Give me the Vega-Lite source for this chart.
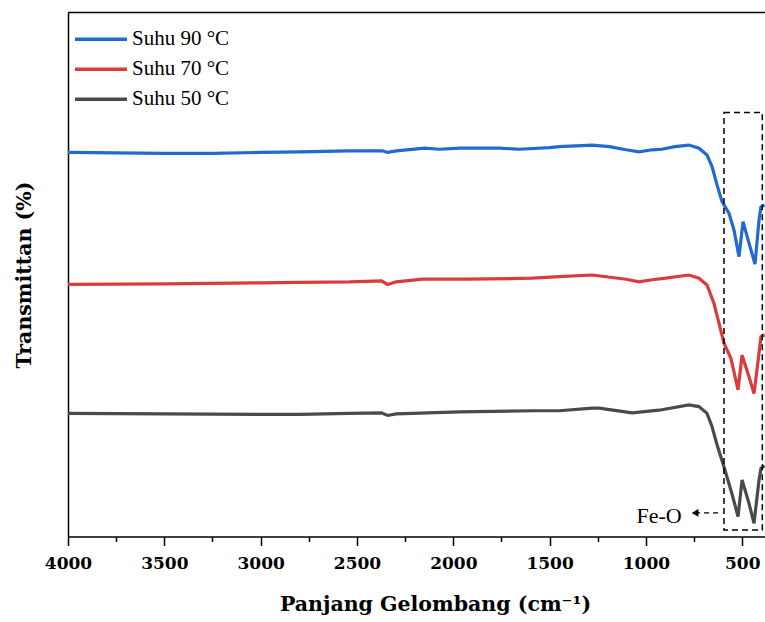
{
  "$schema": "https://vega.github.io/schema/vega-lite/v6.json",
  "width": 697,
  "height": 524,
  "autosize": {"type": "none"},
  "padding": {"left": 68, "top": 12.5, "right": 0, "bottom": 85.5},
  "background": "white",
  "config": {
    "view": {"stroke": null},
    "axis": {"grid": false, "domainColor": "black", "tickColor": "black", "labelColor": "black", "titleColor": "black"}
  },
  "datasets": {
    "spectra": [
      {"series": "Suhu 90 °C", "wn": 4000, "T": 73.3},
      {"series": "Suhu 90 °C", "wn": 3750, "T": 73.2},
      {"series": "Suhu 90 °C", "wn": 3500, "T": 73.1},
      {"series": "Suhu 90 °C", "wn": 3250, "T": 73.1},
      {"series": "Suhu 90 °C", "wn": 3000, "T": 73.3},
      {"series": "Suhu 90 °C", "wn": 2797, "T": 73.4},
      {"series": "Suhu 90 °C", "wn": 2539, "T": 73.6},
      {"series": "Suhu 90 °C", "wn": 2368, "T": 73.6},
      {"series": "Suhu 90 °C", "wn": 2341, "T": 73.3},
      {"series": "Suhu 90 °C", "wn": 2296, "T": 73.6},
      {"series": "Suhu 90 °C", "wn": 2149, "T": 74.1},
      {"series": "Suhu 90 °C", "wn": 2071, "T": 73.9},
      {"series": "Suhu 90 °C", "wn": 1967, "T": 74.1},
      {"series": "Suhu 90 °C", "wn": 1760, "T": 74.1},
      {"series": "Suhu 90 °C", "wn": 1657, "T": 73.9},
      {"series": "Suhu 90 °C", "wn": 1501, "T": 74.2},
      {"series": "Suhu 90 °C", "wn": 1450, "T": 74.4},
      {"series": "Suhu 90 °C", "wn": 1279, "T": 74.7},
      {"series": "Suhu 90 °C", "wn": 1190, "T": 74.4},
      {"series": "Suhu 90 °C", "wn": 1103, "T": 73.8},
      {"series": "Suhu 90 °C", "wn": 1036, "T": 73.4},
      {"series": "Suhu 90 °C", "wn": 968, "T": 73.8},
      {"series": "Suhu 90 °C", "wn": 917, "T": 73.9},
      {"series": "Suhu 90 °C", "wn": 850, "T": 74.4},
      {"series": "Suhu 90 °C", "wn": 777, "T": 74.7},
      {"series": "Suhu 90 °C", "wn": 725, "T": 74.1},
      {"series": "Suhu 90 °C", "wn": 683, "T": 72.8},
      {"series": "Suhu 90 °C", "wn": 657, "T": 70.6},
      {"series": "Suhu 90 °C", "wn": 631, "T": 67.1},
      {"series": "Suhu 90 °C", "wn": 605, "T": 63.9},
      {"series": "Suhu 90 °C", "wn": 569, "T": 61.7},
      {"series": "Suhu 90 °C", "wn": 543, "T": 58.5},
      {"series": "Suhu 90 °C", "wn": 517, "T": 53.4},
      {"series": "Suhu 90 °C", "wn": 496, "T": 60.1},
      {"series": "Suhu 90 °C", "wn": 465, "T": 56.0},
      {"series": "Suhu 90 °C", "wn": 434, "T": 52.0},
      {"series": "Suhu 90 °C", "wn": 413, "T": 60.4},
      {"series": "Suhu 90 °C", "wn": 403, "T": 62.9},
      {"series": "Suhu 90 °C", "wn": 384, "T": 63.3},

      {"series": "Suhu 70 °C", "wn": 4000, "T": 48.1},
      {"series": "Suhu 70 °C", "wn": 3500, "T": 48.2},
      {"series": "Suhu 70 °C", "wn": 3000, "T": 48.4},
      {"series": "Suhu 70 °C", "wn": 2797, "T": 48.5},
      {"series": "Suhu 70 °C", "wn": 2539, "T": 48.6},
      {"series": "Suhu 70 °C", "wn": 2373, "T": 48.8},
      {"series": "Suhu 70 °C", "wn": 2341, "T": 48.1},
      {"series": "Suhu 70 °C", "wn": 2296, "T": 48.6},
      {"series": "Suhu 70 °C", "wn": 2159, "T": 49.1},
      {"series": "Suhu 70 °C", "wn": 1931, "T": 49.1},
      {"series": "Suhu 70 °C", "wn": 1589, "T": 49.3},
      {"series": "Suhu 70 °C", "wn": 1450, "T": 49.6},
      {"series": "Suhu 70 °C", "wn": 1279, "T": 49.9},
      {"series": "Suhu 70 °C", "wn": 1103, "T": 49.1},
      {"series": "Suhu 70 °C", "wn": 1036, "T": 48.6},
      {"series": "Suhu 70 °C", "wn": 968, "T": 49.0},
      {"series": "Suhu 70 °C", "wn": 896, "T": 49.3},
      {"series": "Suhu 70 °C", "wn": 777, "T": 49.9},
      {"series": "Suhu 70 °C", "wn": 725, "T": 49.3},
      {"series": "Suhu 70 °C", "wn": 683, "T": 48.0},
      {"series": "Suhu 70 °C", "wn": 647, "T": 44.5},
      {"series": "Suhu 70 °C", "wn": 621, "T": 40.7},
      {"series": "Suhu 70 °C", "wn": 595, "T": 36.9},
      {"series": "Suhu 70 °C", "wn": 559, "T": 34.0},
      {"series": "Suhu 70 °C", "wn": 522, "T": 28.0},
      {"series": "Suhu 70 °C", "wn": 501, "T": 34.6},
      {"series": "Suhu 70 °C", "wn": 465, "T": 30.5},
      {"series": "Suhu 70 °C", "wn": 439, "T": 27.3},
      {"series": "Suhu 70 °C", "wn": 413, "T": 35.0},
      {"series": "Suhu 70 °C", "wn": 403, "T": 38.1},
      {"series": "Suhu 70 °C", "wn": 384, "T": 38.5},

      {"series": "Suhu 50 °C", "wn": 4000, "T": 23.5},
      {"series": "Suhu 50 °C", "wn": 3500, "T": 23.4},
      {"series": "Suhu 50 °C", "wn": 3000, "T": 23.3},
      {"series": "Suhu 50 °C", "wn": 2797, "T": 23.3},
      {"series": "Suhu 50 °C", "wn": 2539, "T": 23.5},
      {"series": "Suhu 50 °C", "wn": 2373, "T": 23.6},
      {"series": "Suhu 50 °C", "wn": 2341, "T": 23.1},
      {"series": "Suhu 50 °C", "wn": 2296, "T": 23.4},
      {"series": "Suhu 50 °C", "wn": 1967, "T": 23.8},
      {"series": "Suhu 50 °C", "wn": 1589, "T": 24.0},
      {"series": "Suhu 50 °C", "wn": 1450, "T": 24.0},
      {"series": "Suhu 50 °C", "wn": 1279, "T": 24.5},
      {"series": "Suhu 50 °C", "wn": 1243, "T": 24.5},
      {"series": "Suhu 50 °C", "wn": 1072, "T": 23.6},
      {"series": "Suhu 50 °C", "wn": 932, "T": 24.1},
      {"series": "Suhu 50 °C", "wn": 777, "T": 25.1},
      {"series": "Suhu 50 °C", "wn": 725, "T": 24.8},
      {"series": "Suhu 50 °C", "wn": 683, "T": 23.5},
      {"series": "Suhu 50 °C", "wn": 657, "T": 21.0},
      {"series": "Suhu 50 °C", "wn": 631, "T": 17.5},
      {"series": "Suhu 50 °C", "wn": 595, "T": 13.3},
      {"series": "Suhu 50 °C", "wn": 554, "T": 8.2},
      {"series": "Suhu 50 °C", "wn": 522, "T": 3.8},
      {"series": "Suhu 50 °C", "wn": 501, "T": 10.8},
      {"series": "Suhu 50 °C", "wn": 465, "T": 6.3},
      {"series": "Suhu 50 °C", "wn": 439, "T": 2.5},
      {"series": "Suhu 50 °C", "wn": 413, "T": 10.8},
      {"series": "Suhu 50 °C", "wn": 403, "T": 13.0},
      {"series": "Suhu 50 °C", "wn": 384, "T": 13.5}
    ],
    "box": [{"wn1": 595, "wn2": 396, "t1": 1.24, "t2": 80.9}],
    "arrow": [{"wn1": 745, "wn2": 604, "t": 4.5}],
    "label": [{"wn": 932, "t": 4.0, "text": "Fe-O"}]
  },
  "resolve": {"axis": {"x": "independent"}},
  "layer": [
    {
      "data": {"name": "spectra"},
      "mark": {"type": "line", "strokeWidth": 3.2, "clip": true},
      "encoding": {
        "x": {
          "field": "wn", "type": "quantitative",
          "scale": {"domain": [382, 4000], "reverse": true, "nice": false, "zero": false},
          "axis": {
            "orient": "bottom",
            "values": [4000, 3500, 3000, 2500, 2000, 1500, 1000, 500],
            "format": "d",
            "labelFlush": false,
            "labelFont": "DejaVu Serif", "labelFontWeight": "bold", "labelFontSize": 17,
            "labelPadding": 10,
            "tickSize": 9, "tickWidth": 1.5, "domainWidth": 1.5,
            "title": "Panjang Gelombang (cm⁻¹)",
            "titleFont": "DejaVu Serif", "titleFontWeight": "bold", "titleFontSize": 20.5,
            "titlePadding": 23,
            "titleX": 367
          }
        },
        "y": {
          "field": "T", "type": "quantitative",
          "scale": {"domain": [0, 100], "nice": false, "zero": false},
          "axis": {
            "ticks": false, "labels": false, "domainWidth": 1.5,
            "title": "Transmittan (%)",
            "titleFont": "DejaVu Serif", "titleFontWeight": "bold", "titleFontSize": 20.5,
            "titlePadding": 34
          }
        },
        "color": {
          "field": "series", "type": "nominal",
          "scale": {"domain": ["Suhu 90 °C", "Suhu 70 °C", "Suhu 50 °C"], "range": ["#1f6bcf", "#db3b3b", "#4a4a4a"]},
          "legend": {
            "title": null, "orient": "none", "legendX": 5, "legendY": 13,
            "symbolType": "stroke", "symbolSize": 2704, "symbolStrokeWidth": 3.5,
            "labelFont": "Liberation Serif", "labelFontSize": 21, "labelColor": "black",
            "labelOffset": 3, "clipHeight": 27.5, "rowPadding": 2, "padding": 0
          }
        }
      }
    },
    {
      "data": {"name": "box"},
      "mark": {"type": "rect", "fill": null, "fillOpacity": 0, "stroke": "black", "strokeWidth": 1.5, "strokeDash": [6, 4]},
      "encoding": {
        "x": {
          "field": "wn1", "type": "quantitative",
          "axis": {
            "orient": "bottom",
            "values": [3750, 3250, 2750, 2250, 1750, 1250, 750],
            "labels": false, "domain": false, "tickSize": 5, "tickWidth": 1.5, "title": null
          }
        },
        "x2": {"field": "wn2"},
        "y": {"field": "t1", "type": "quantitative"},
        "y2": {"field": "t2"}
      }
    },
    {
      "data": {"values": [{}]},
      "mark": {"type": "rule", "stroke": "black", "strokeWidth": 1.5},
      "encoding": {"y": {"datum": 100}}
    },
    {
      "data": {"name": "arrow"},
      "mark": {"type": "rule", "stroke": "black", "strokeWidth": 1.3, "strokeDash": [5, 4]},
      "encoding": {
        "x": {"field": "wn1", "type": "quantitative", "axis": null},
        "x2": {"field": "wn2"},
        "y": {"field": "t", "type": "quantitative"}
      }
    },
    {
      "data": {"name": "arrow"},
      "mark": {"type": "point", "shape": "triangle-left", "filled": true, "color": "black", "size": 60, "opacity": 1},
      "encoding": {
        "x": {"field": "wn1", "type": "quantitative", "axis": null},
        "y": {"field": "t", "type": "quantitative"}
      }
    },
    {
      "data": {"name": "label"},
      "mark": {"type": "text", "font": "Liberation Serif", "fontSize": 22, "color": "black", "align": "center", "baseline": "middle"},
      "encoding": {
        "x": {"field": "wn", "type": "quantitative", "axis": null},
        "y": {"field": "t", "type": "quantitative"},
        "text": {"field": "text"}
      }
    }
  ]
}
